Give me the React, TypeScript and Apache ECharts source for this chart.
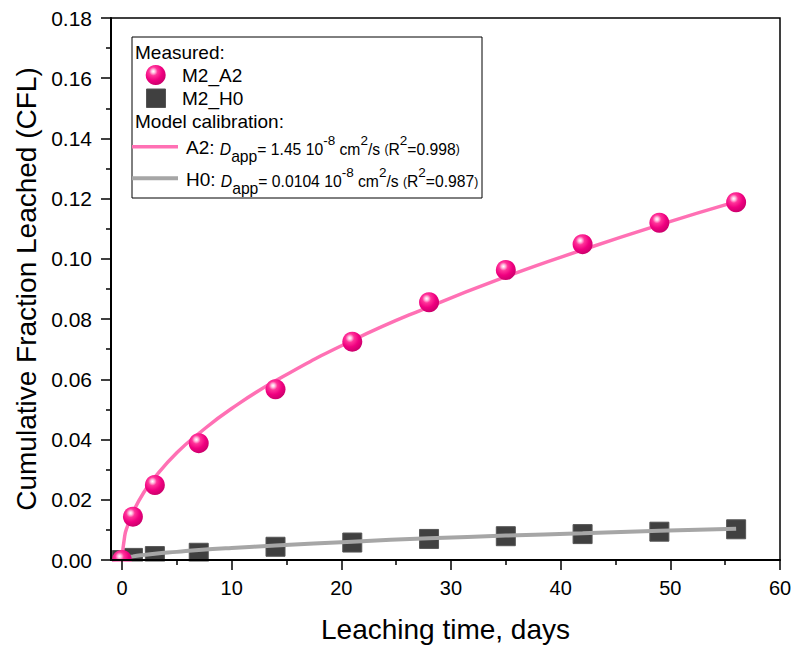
import React, { useEffect, useRef } from "react";
import * as echarts from "echarts";

// ---- data ----
const days = [0, 1, 3, 7, 14, 21, 28, 35, 42, 49, 56];
const measuredA2 = [0.0, 0.0144, 0.0249, 0.0388, 0.0567, 0.0725, 0.0856, 0.0963, 0.1049, 0.112, 0.1188];
const measuredH0 = [0.0, 0.0007, 0.0013, 0.0024, 0.0044, 0.0058, 0.007, 0.0079, 0.0086, 0.0094, 0.0102];

const modelDays = [0, 0.25, 0.5, 1, 2, 3, 5, 7, 10, 14, 21, 28, 35, 42, 49, 56];
const modelA2 = [0, 0.008, 0.0112, 0.0159, 0.0225, 0.0275, 0.0356, 0.042, 0.0503, 0.0595, 0.0729, 0.0841, 0.0941, 0.103, 0.1113, 0.119];
const modelH0 = [0.0003, 0.0006, 0.0008, 0.0012, 0.0017, 0.0021, 0.0027, 0.0033, 0.004, 0.0048, 0.0061, 0.0072, 0.0081, 0.0089, 0.0097, 0.0104];

const xMajorTicks = [0, 10, 20, 30, 40, 50, 60];
const xMinorTicks = [5, 15, 25, 35, 45, 55];

const FONT = "'Liberation Sans', Arial, sans-serif";

const pair = (xs: number[], ys: number[]) => xs.map((x, i) => [x, ys[i]]);

const ballGradient = () =>
  new echarts.graphic.RadialGradient(0.38, 0.32, 0.72, [
    { offset: 0, color: "#ffffff" },
    { offset: 0.12, color: "#ffc4e2" },
    { offset: 0.3, color: "#ff3399" },
    { offset: 0.62, color: "#f00080" },
    { offset: 1, color: "#c8006a" },
  ]);

const richStyles = {
  a: { fontSize: 19, fontFamily: FONT, color: "#000", lineHeight: 34, height: 30, verticalAlign: "top" },
  d: { fontSize: 15.7, fontFamily: FONT, color: "#000", fontStyle: "italic", lineHeight: 34 },
  sub: { fontSize: 15.7, fontFamily: FONT, color: "#000", lineHeight: 20, height: 20, verticalAlign: "bottom" },
  m: { fontSize: 15.7, fontFamily: FONT, color: "#000", lineHeight: 34 },
  sup: { fontSize: 13.5, fontFamily: FONT, color: "#000", lineHeight: 16, height: 16, verticalAlign: "top" },
  p: { fontSize: 12, fontFamily: FONT, color: "#000", lineHeight: 34 },
};

const modelText = (name: string, d: string, r2: string) =>
  `{a|${name}: }{d|D}{sub|app}{m|= ${d} 10}{sup|-8}{m| cm}{sup|2}{m|/s }{p|(}{m|R}{sup|2}{m|=${r2}}{p|)}`;

export default function App() {
  const ref = useRef<HTMLDivElement>(null);

  useEffect(() => {
    document.body.style.margin = "0";
    const chart = echarts.init(ref.current!, null, { renderer: "svg" });
    const axisLineStyle = { color: "#000", width: 2 };
    const option: any = {
      animation: false,
      backgroundColor: "#fff",
      grid: {
        left: 111,
        right: 14,
        top: 18,
        bottom: 86,
        show: true,
        borderColor: "#000",
        borderWidth: 1.5,
        containLabel: false,
        outerBoundsMode: "none",
      },
      xAxis: [
        {
          type: "value",
          min: -1,
          max: 60,
          z: 60,
          name: "Leaching time, days",
          nameLocation: "middle",
          nameGap: 55,
          nameTextStyle: { fontSize: 28, fontFamily: FONT, color: "#000" },
          axisLine: { show: true, onZero: false, lineStyle: axisLineStyle },
          axisTick: { show: true, customValues: xMajorTicks, length: 10, lineStyle: { color: "#000", width: 1.5 } },
          axisLabel: { customValues: xMajorTicks, fontSize: 20, fontFamily: FONT, color: "#000", margin: 18 },
          splitLine: { show: false },
        },
        {
          type: "value",
          min: -1,
          max: 60,
          z: 60,
          position: "bottom",
          axisLine: { show: false },
          axisTick: { show: true, customValues: xMinorTicks, length: 5, lineStyle: { color: "#000", width: 1.5 } },
          axisLabel: { show: false },
          splitLine: { show: false },
        },
      ],
      yAxis: {
        type: "value",
        min: 0,
        max: 0.18,
        interval: 0.02,
        z: 60,
        name: "Cumulative Fraction Leached (CFL)",
        nameLocation: "middle",
        nameRotate: 90,
        nameGap: 69,
        nameTextStyle: { fontSize: 28, fontFamily: FONT, color: "#000" },
        axisLine: { show: true, onZero: false, lineStyle: axisLineStyle },
        axisTick: { show: true, length: 10, lineStyle: { color: "#000", width: 1.5 } },
        minorTick: { show: true, splitNumber: 2, length: 5, lineStyle: { color: "#000", width: 1.5 } },
        axisLabel: {
          fontSize: 21,
          fontFamily: FONT,
          color: "#000",
          margin: 19,
          formatter: (v: number) => v.toFixed(2),
        },
        splitLine: { show: false },
        minorSplitLine: { show: false },
      },
      series: [
        {
          name: "M2_H0",
          type: "scatter",
          z: 2,
          symbol: "rect",
          symbolSize: 19,
          data: pair(days, measuredH0),
          itemStyle: { color: "#404040", borderColor: "#555555", borderWidth: 1, opacity: 1 },
        },
        {
          name: "H0 model",
          type: "line",
          z: 3,
          smooth: true,
          showSymbol: false,
          data: pair(modelDays, modelH0),
          lineStyle: { color: "#a6a6a6", width: 4 },
        },
        {
          name: "A2 model",
          type: "line",
          z: 4,
          smooth: true,
          showSymbol: false,
          data: pair(modelDays, modelA2),
          lineStyle: { color: "#ff70b4", width: 3.5 },
        },
        {
          name: "M2_A2",
          type: "scatter",
          z: 5,
          symbol: "circle",
          symbolSize: 20,
          data: pair(days, measuredA2),
          itemStyle: { color: ballGradient(), opacity: 1 },
        },
      ],
      graphic: [
        // mask below the x axis (clips the symbols sitting on the axis)
        {
          type: "rect",
          z: 50,
          silent: true,
          shape: { x: 100, y: 561.5, width: 690, height: 16 },
          style: { fill: "#fff" },
        },
        // legend box
        {
          type: "rect",
          z: 70,
          shape: { x: 132, y: 37, width: 350, height: 161 },
          style: { fill: "#fff", stroke: "#000", lineWidth: 1 },
        },
        {
          type: "text",
          z: 71,
          x: 135,
          y: 52,
          style: { text: "Measured:", fontSize: 19, fontFamily: FONT, fill: "#000", align: "left", verticalAlign: "middle" },
        },
        {
          type: "circle",
          z: 71,
          shape: { cx: 155.7, cy: 75, r: 10 },
          style: { fill: ballGradient() },
        },
        {
          type: "text",
          z: 71,
          x: 182,
          y: 75,
          style: { text: "M2_A2", fontSize: 19, fontFamily: FONT, fill: "#000", align: "left", verticalAlign: "middle" },
        },
        {
          type: "rect",
          z: 71,
          shape: { x: 146.5, y: 89, width: 19, height: 18.5 },
          style: { fill: "#404040", stroke: "#555555", lineWidth: 1 },
        },
        {
          type: "text",
          z: 71,
          x: 182,
          y: 98,
          style: { text: "M2_H0", fontSize: 19, fontFamily: FONT, fill: "#000", align: "left", verticalAlign: "middle" },
        },
        {
          type: "text",
          z: 71,
          x: 135,
          y: 121.5,
          style: { text: "Model calibration:", fontSize: 19, fontFamily: FONT, fill: "#000", align: "left", verticalAlign: "middle" },
        },
        {
          type: "line",
          z: 71,
          shape: { x1: 132, y1: 146.7, x2: 178, y2: 146.7 },
          style: { stroke: "#ff70b4", lineWidth: 3.5 },
        },
        {
          type: "text",
          z: 71,
          x: 186,
          y: 149,
          style: {
            text: modelText("A2", "1.45", "0.998"),
            rich: richStyles,
            fontSize: 15.7,
            fontFamily: FONT,
            fill: "#000",
            align: "left",
            verticalAlign: "middle",
          },
        },
        {
          type: "line",
          z: 71,
          shape: { x1: 132, y1: 178.3, x2: 178, y2: 178.3 },
          style: { stroke: "#a6a6a6", lineWidth: 4 },
        },
        {
          type: "text",
          z: 71,
          x: 186,
          y: 181.5,
          style: {
            text: modelText("H0", "0.0104", "0.987"),
            rich: richStyles,
            fontSize: 15.7,
            fontFamily: FONT,
            fill: "#000",
            align: "left",
            verticalAlign: "middle",
          },
        },
      ],
    };
    chart.setOption(option);
    return () => chart.dispose();
  }, []);

  return (
    <div
      ref={ref}
      style={{ position: "fixed", left: 0, top: 0, width: 794, height: 646, background: "#fff" }}
    />
  );
}
